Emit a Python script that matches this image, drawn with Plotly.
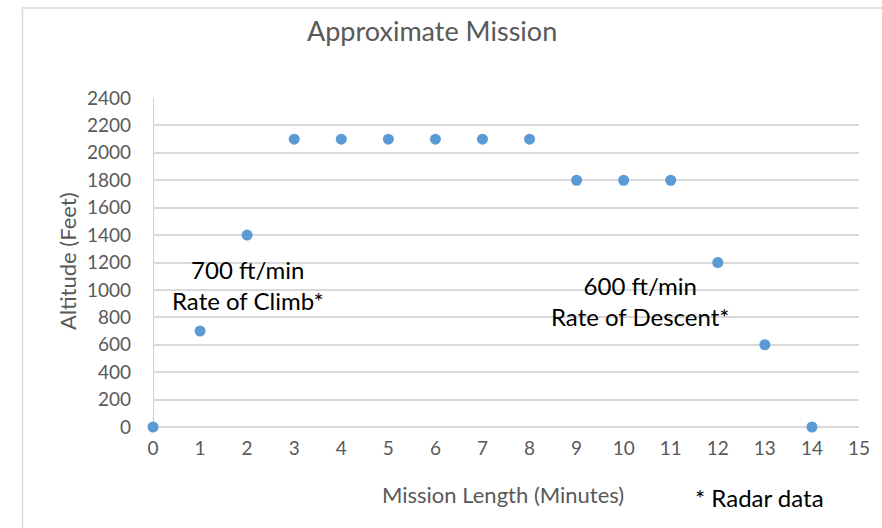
import plotly.graph_objects as go

# Mission profile: minutes vs altitude (feet)
minutes = [0, 1, 2, 3, 4, 5, 6, 7, 8, 9, 10, 11, 12, 13, 14]
altitude_ft = [0, 700, 1400, 2100, 2100, 2100, 2100, 2100, 2100, 1800, 1800, 1800, 1200, 600, 0]

x_ticks = list(range(0, 16))
y_ticks = list(range(0, 2401, 200))

FONT = "Lato, 'Open Sans', sans-serif"
GRAY_TXT = "#595959"

W, H = 882, 528
L, R, T, B = 153, 15, 98, 101
pw, ph = W - L - R, H - T - B


def px_x(px):
    return (px - L) / pw


def px_y(py):
    return (H - B - py) / ph


fig = go.Figure()
fig.add_trace(go.Scatter(
    x=minutes, y=altitude_ft, mode="markers",
    marker=dict(color="#5B9BD5", size=11, line=dict(width=0)),
    cliponaxis=False, showlegend=False,
))

fig.update_layout(
    width=W, height=H,
    margin=dict(l=L, r=R, t=T, b=B),
    paper_bgcolor="white", plot_bgcolor="white",
    font=dict(family=FONT, color=GRAY_TXT, size=19),
    xaxis=dict(range=[0, 15], tickvals=x_ticks, showgrid=False, zeroline=False,
               showline=False, ticks="", ticklabelstandoff=8,
               tickfont=dict(size=19, color=GRAY_TXT)),
    yaxis=dict(range=[0, 2400], tickvals=y_ticks, showgrid=True, gridcolor="#D9D9D9",
               gridwidth=1.5, zeroline=True, zerolinecolor="#D9D9D9", zerolinewidth=1.5,
               showline=False, ticks="", ticklabelstandoff=21,
               tickfont=dict(size=19, color=GRAY_TXT)),
)

# vertical axis line at x = 0
fig.add_shape(type="line", xref="x", yref="y", x0=0, x1=0, y0=0, y1=2400,
              line=dict(color="#BFBFBF", width=1.5), layer="below")

# chart-area border
fig.add_shape(type="rect", xref="paper", yref="paper",
              x0=px_x(21), x1=px_x(W + 20), y0=px_y(H + 20), y1=px_y(8),
              line=dict(color="#D9D9D9", width=1.5), fillcolor="rgba(0,0,0,0)", layer="below")

# chart title and axis titles
fig.add_annotation(text="Approximate Mission", xref="paper", yref="paper",
                   x=px_x(435), y=px_y(31), showarrow=False,
                   font=dict(size=27, color=GRAY_TXT, family=FONT),
                   xanchor="center", yanchor="middle")
fig.add_annotation(text="Mission Length (Minutes)", xref="paper", yref="paper",
                   x=px_x(507), y=px_y(494), showarrow=False,
                   font=dict(size=22, color=GRAY_TXT, family=FONT),
                   xanchor="center", yanchor="middle")
fig.add_annotation(text="Altitude (Feet)", xref="paper", yref="paper",
                   x=px_x(66), y=px_y(261), showarrow=False, textangle=-90,
                   font=dict(size=22, color=GRAY_TXT, family=FONT),
                   xanchor="center", yanchor="middle")

ann_font = dict(size=24, color="black", family=FONT)
fig.add_annotation(text="700 ft/min<br>Rate of Climb*", xref="paper", yref="paper",
                   x=px_x(249), y=px_y(285), showarrow=False, font=ann_font,
                   align="center", xanchor="center", yanchor="middle")
fig.add_annotation(text="600 ft/min<br>Rate of Descent*", xref="paper", yref="paper",
                   x=px_x(646), y=px_y(301), showarrow=False, font=ann_font,
                   align="center", xanchor="center", yanchor="middle")
fig.add_annotation(text="* Radar data", xref="paper", yref="paper",
                   x=px_x(766), y=px_y(497), showarrow=False, font=ann_font,
                   xanchor="center", yanchor="middle")

fig.write_html("out.html")
